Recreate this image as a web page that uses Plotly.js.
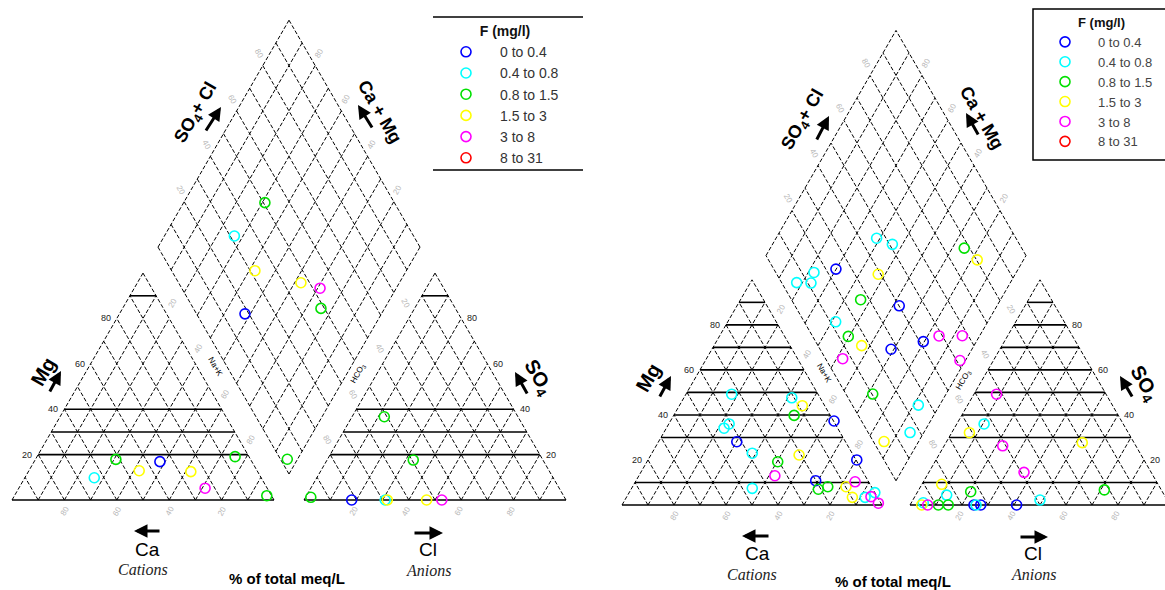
<!DOCTYPE html>
<html><head><meta charset="utf-8">
<script src="https://cdn.plot.ly/plotly-3.0.1.min.js"></script>
<style>html,body{margin:0;padding:0;background:#fff;} #chart{width:1165px;height:590px;}</style>
</head><body><div id="chart"></div>
<script>
// ---- F classes (legend) ----
const fClasses = ['0 to 0.4', '0.4 to 0.8', '0.8 to 1.5', '1.5 to 3', '3 to 8', '8 to 31'];
const fColors = ['#0000ff', '#00ffff', '#00e000', '#ffff00', '#ff00ff', '#ff0000'];

// ---- Left diagram: cation triangle (% Mg, % Na+K), class index ----
const leftCatMg = [17.9, 9.8, 12.9, 16.9, 12.5, 5.2, 19.1, 1.9];
const leftCatNa = [30.7, 26.5, 42.1, 48.0, 62.0, 71.1, 75.6, 96.3];
const leftCatF  = [2, 1, 3, 0, 3, 4, 2, 2];
// anion triangle (% SO4, % Cl)
const leftAnSO4 = [36.7, 17.6, 1.2, 0, 0, 0, 0, 0];
const leftAnCl  = [12.3, 32.9, 2.0, 18.2, 31.0, 31.8, 46.8, 52.6];
const leftAnF   = [2, 2, 2, 0, 1, 3, 3, 4];
// diamond (% Ca+Mg, % SO4+Cl)
const leftDiaCaMg  = [69.0, 73.3, 57.8, 37.6, 29.1, 24.3, 52.1, 3.9];
const leftDiaSO4Cl = [50.6, 31.6, 31.8, 46.7, 52.8, 48.7, 18.5, 2.6];
const leftDiaF     = [2, 1, 3, 3, 4, 2, 0, 2];

// ---- Right diagram ----
const rightCatMg = [49.2, 47.6, 44.1, 39.8, 37.3, 36.0, 34.1, 28.1, 23.0, 22.2, 20.0, 19.2, 13.0, 10.8, 7.0, 8.1, 8.1, 10.3, 3.4, 7.4, 3.4, 5.5, 3.7, 0.8];
const rightCatNa = [17.6, 41.5, 47.3, 46.3, 62.9, 23.2, 22.2, 30.1, 38.6, 57.0, 80.3, 50.3, 52.3, 69.1, 72.0, 75.1, 82.1, 84.5, 86.9, 46.4, 91.8, 94.5, 93.9, 98.2];
const rightCatF  = [1, 1, 3, 2, 0, 1, 1, 0, 1, 3, 0, 2, 4, 0, 2, 2, 3, 4, 3, 1, 1, 1, 4, 4];
const rightAnSO4 = [49.2, 36.0, 32.1, 26.3, 27.7, 14.5, 6.7, 9.2, 4.4, 5.9, 0, 1.0, 0, 0, 0, 0, 0, 0, 0, 2.2];
const rightAnCl  = [8.7, 10.5, 6.8, 22.5, 52.4, 36.6, 71.4, 7.6, 11.9, 20.4, 4.5, 4.6, 6.8, 10.9, 14.7, 24.6, 25.4, 27.2, 41.0, 48.9];
const rightAnF   = [4, 1, 3, 4, 3, 4, 2, 3, 1, 2, 3, 1, 4, 2, 2, 0, 1, 0, 0, 1];
const rightDiaCaMg  = [61.3, 53.9, 25.4, 17.8, 70.1, 52.7, 77.8, 82.2, 76.6, 53.8, 58.5, 50.4, 43.2, 47.6, 28.2, 13.3, 37.6, 15.6, 20.4, 6.7, 31.1, 2.1, 8.2, 5.3];
const rightDiaSO4Cl = [46.4, 51.1, 77.9, 80.3, 23.9, 39.0, 14.7, 5.8, 11.2, 26.6, 12.1, 13.7, 16.8, 6.6, 10.3, 4.1, 40.1, 48.7, 41.4, 57.7, 27.3, 51.3, 25.4, 16.1];
const rightDiaF     = [1, 1, 2, 3, 0, 3, 1, 1, 1, 2, 1, 2, 3, 4, 2, 3, 0, 4, 0, 4, 0, 4, 1, 1];

// tick labels
const sideTicks = [20, 40, 60, 80];

// ---- geometry (pixel layout of each Piper diagram) ----
const SQ = Math.sqrt(3) / 2;
const GEO = [
  {x0: 12, base: 500, s: 262, g: 30, horiz: [20, 30, 40, 90], legend: 'legend'},
  {x0: 622, base: 505, s: 260, g: 28, horiz: [10, 30, 40, 50, 60, 70, 80, 90], legend: 'legend2'}
];
function catXY(G, mg, na) { return [G.x0 + G.s * (na + mg / 2) / 100, G.base - G.s * SQ * mg / 100]; }
function anXY(G, so4, cl) { const xa = G.x0 + G.s + G.g; return [xa + G.s * (cl + so4 / 2) / 100, G.base - G.s * SQ * so4 / 100]; }
function diaXY(G, p, q) {
  const bx = G.x0 + G.s + G.g / 2, by = G.base - G.g / 2 * Math.sqrt(3);
  return [bx + G.s / 2 * (q - p) / 100, by - G.s * SQ * (p + q) / 100];
}

const traces = [];
const annotations = [];
const shapes = [];

function seg(arr, a, b) { arr.x.push(a[0], b[0], null); arr.y.push(a[1], b[1], null); }

GEO.forEach(G => {
  const dashed = {x: [], y: []}, solid = {x: [], y: []};
  [catXY, anXY].forEach(f => {
    for (let k = 0; k <= 90; k += 10) {
      seg(dashed, f(G, 0, 100 - k), f(G, 100 - k, 0));
      seg(dashed, f(G, 0, k), f(G, 100 - k, k));
    }
    seg(solid, f(G, 0, 0), f(G, 0, 100));
    G.horiz.forEach(m => seg(solid, f(G, m, 0), f(G, m, 100 - m)));
  });
  for (let k = 0; k <= 100; k += 10) {
    seg(dashed, diaXY(G, k, 0), diaXY(G, k, 100));
    seg(dashed, diaXY(G, 0, k), diaXY(G, 100, k));
  }
  traces.push({type: 'scatter', mode: 'lines', x: dashed.x, y: dashed.y, hoverinfo: 'skip', showlegend: false,
    line: {color: '#000', width: 1, dash: '4px,2px'}});
  traces.push({type: 'scatter', mode: 'lines', x: solid.x, y: solid.y, hoverinfo: 'skip', showlegend: false,
    line: {color: '#000', width: 1.6}});
});

// ---- sample points ----
const sets = [
  {G: GEO[0], cat: [leftCatMg, leftCatNa, leftCatF], an: [leftAnSO4, leftAnCl, leftAnF], dia: [leftDiaCaMg, leftDiaSO4Cl, leftDiaF]},
  {G: GEO[1], cat: [rightCatMg, rightCatNa, rightCatF], an: [rightAnSO4, rightAnCl, rightAnF], dia: [rightDiaCaMg, rightDiaSO4Cl, rightDiaF]}
];
sets.forEach(S => {
  fClasses.forEach((name, ci) => {
    const xs = [], ys = [];
    [[S.cat, catXY], [S.an, anXY], [S.dia, diaXY]].forEach(([d, f]) => {
      d[2].forEach((c, i) => { if (c === ci) { const p = f(S.G, d[0][i], d[1][i]); xs.push(p[0]); ys.push(p[1]); } });
    });
    if (!xs.length) { xs.push(null); ys.push(null); }
    traces.push({type: 'scatter', mode: 'markers', x: xs, y: ys, name: '\u2002\u2002' + name, legend: S.G.legend,
      marker: {symbol: 'circle-open', size: 10, color: fColors[ci], line: {width: 1.6, color: fColors[ci]}},
      hovertemplate: name + '<extra></extra>'});
  });
});

// ---- labels ----
const BOLD = 'Liberation Sans, Arial, sans-serif';
function ann(x, y, text, size, opts) {
  annotations.push(Object.assign({x, y, xref: 'x', yref: 'y', text, showarrow: false,
    font: {family: BOLD, size, color: '#000'}, xanchor: 'center', yanchor: 'middle'}, opts || {}));
}
function arrow(tail, head) {
  annotations.push({x: head[0], y: head[1], ax: tail[0], ay: tail[1], xref: 'x', yref: 'y', axref: 'x', ayref: 'y',
    text: '', showarrow: true, arrowhead: 2, arrowsize: 0.9, arrowwidth: 3, arrowcolor: '#000'});
}

GEO.forEach((G, gi) => {
  const o = gi === 0 ? {dx: 0} : {dx: 0};
  // black side tick labels
  sideTicks.forEach(v => {
    const c = catXY(G, v, 0);
    ann(c[0] - 4, c[1], String(v), 9, {xanchor: 'right', font: {family: BOLD, size: 9, color: '#222'}});
    const a = anXY(G, v, 100 - v);
    ann(a[0] + 4, a[1], String(v), 9, {xanchor: 'left', font: {family: BOLD, size: 9, color: '#222'}});
  });
  // faint gray tick labels
  const gray = {family: BOLD, size: 8, color: '#b8b8b8'};
  sideTicks.forEach((v, i) => {
    const f = (v + 0) / 100;
    // cation base
    const cb = catXY(G, 0, f * 100);
    ann(cb[0], cb[1] + 11, String(100 - v), 8, {font: gray, textangle: -60});
    // anion base
    const ab = anXY(G, 0, f * 100);
    ann(ab[0] - 3, ab[1] + 11, String(v), 8, {font: gray, textangle: -60});
    // cation right side (outer normal)
    const fr = f + 0.045;
    const cr = catXY(G, fr * 100, 100 - fr * 100);
    ann(cr[0] + 9, cr[1] - 5, String(100 - v), 8, {font: gray, textangle: -60});
    const al = anXY(G, fr * 100, 0);
    ann(al[0] - 9, al[1] - 5, String(100 - v), 8, {font: gray, textangle: 60});
    // diamond upper edges
    const fd = f + 0.03;
    const dl = diaXY(G, 100, fd * 100);
    ann(dl[0] - 8, dl[1] - 5, String(v), 8, {font: gray, textangle: 60});
    const dr = diaXY(G, fd * 100, 100);
    ann(dr[0] + 8, dr[1] - 5, String(v), 8, {font: gray, textangle: -60});
  });
  // small inner labels
  const nk = catXY(G, 55, 45);
  ann(nk[0] + 14, nk[1] - 8, 'Na+K', 8, {textangle: 60, font: {family: BOLD, size: 8, color: '#000'}});
  const hc = anXY(G, 52, 0);
  ann(hc[0] - 14, hc[1] - 8, 'HCO<sub>3</sub>', 8, {textangle: -60, font: {family: BOLD, size: 8, color: '#000'}});
});

// big axis titles (left diagram)
ann(196, 113, 'SO<sub>4</sub>+ Cl', 18, {textangle: -60, font: {family: BOLD, size: 18, color: '#000', weight: 'bold'}});
arrow([205, 132], [221, 107]);
ann(380, 112, 'Ca + Mg', 18, {textangle: 60, font: {family: BOLD, size: 18, color: '#000', weight: 'bold'}});
arrow([373, 129], [358, 105]);
ann(43, 372, 'Mg', 20, {textangle: -60, font: {family: BOLD, size: 20, color: '#000', weight: 'bold'}});
arrow([49, 393], [61, 371]);
ann(538, 377, 'SO<sub>4</sub>', 20, {textangle: 60, font: {family: BOLD, size: 20, color: '#000', weight: 'bold'}});
arrow([528, 395], [515, 372]);
arrow([161, 531], [134, 531]);
ann(147, 549, 'Ca', 19, {font: {family: BOLD, size: 19, color: '#000'}});
ann(143, 569, 'Cations', 16, {font: {family: 'Liberation Serif, Times New Roman, serif', size: 16, color: '#222', style: 'italic'}});
arrow([413, 533], [443, 533]);
ann(428, 549, 'Cl', 19, {font: {family: BOLD, size: 19, color: '#000'}});
ann(428, 570, 'Anions', 16, {font: {family: 'Liberation Serif, Times New Roman, serif', size: 16, color: '#222', style: 'italic'}});
ann(287, 578, '% of total meq/L', 15, {font: {family: BOLD, size: 15, color: '#000', weight: 'bold'}});

// right diagram
ann(803, 120, 'SO<sub>4</sub>+ Cl', 18, {textangle: -60, font: {family: BOLD, size: 18, color: '#000', weight: 'bold'}});
arrow([816, 141], [829, 116]);
ann(982, 118, 'Ca + Mg', 18, {textangle: 60, font: {family: BOLD, size: 18, color: '#000', weight: 'bold'}});
arrow([979, 136], [966, 113]);
ann(648, 378, 'Mg', 20, {textangle: -60, font: {family: BOLD, size: 20, color: '#000', weight: 'bold'}});
arrow([659, 398], [671, 376]);
ann(1144, 383, 'SO<sub>4</sub>', 20, {textangle: 60, font: {family: BOLD, size: 20, color: '#000', weight: 'bold'}});
arrow([1133, 398], [1120, 376]);
arrow([770, 536], [742, 536]);
ann(757, 553, 'Ca', 19, {font: {family: BOLD, size: 19, color: '#000'}});
ann(752, 574, 'Cations', 16, {font: {family: 'Liberation Serif, Times New Roman, serif', size: 16, color: '#222', style: 'italic'}});
arrow([1019, 537], [1048, 537]);
ann(1033, 553, 'Cl', 19, {font: {family: BOLD, size: 19, color: '#000'}});
ann(1033, 574, 'Anions', 16, {font: {family: 'Liberation Serif, Times New Roman, serif', size: 16, color: '#222', style: 'italic'}});
ann(893, 581, '% of total meq/L', 15, {font: {family: BOLD, size: 15, color: '#000', weight: 'bold'}});

// legend frame lines
shapes.push({type: 'line', xref: 'x', yref: 'y', x0: 433, x1: 583, y0: 17, y1: 17, line: {color: '#000', width: 1.5}});
shapes.push({type: 'line', xref: 'x', yref: 'y', x0: 433, x1: 583, y0: 170, y1: 170, line: {color: '#000', width: 1.5}});
shapes.push({type: 'rect', xref: 'x', yref: 'y', x0: 1033, x1: 1175, y0: 9, y1: 160, line: {color: '#000', width: 1.5}});

const legBase = {bgcolor: 'rgba(0,0,0,0)', borderwidth: 0, xanchor: 'left', yanchor: 'top', traceorder: 'normal',
  itemclick: false, itemdoubleclick: false};
const layout = {
  width: 1165, height: 590, margin: {l: 0, r: 0, t: 0, b: 0},
  paper_bgcolor: '#fff', plot_bgcolor: '#fff',
  xaxis: {range: [0, 1165], visible: false, fixedrange: true},
  yaxis: {range: [590, 0], visible: false, fixedrange: true},
  showlegend: true,
  legend: Object.assign({}, legBase, {x: 446 / 1165, y: 1 - 18 / 590,
    font: {family: BOLD, size: 14, color: '#333'},
    title: {text: '<b>F (mg/l)</b>', side: 'top center', font: {family: BOLD, size: 14, color: '#111'}}}),
  legend2: Object.assign({}, legBase, {x: 1045 / 1165, y: 1 - 10 / 590,
    font: {family: BOLD, size: 13, color: '#444'},
    title: {text: '<b>F (mg/l)</b>', side: 'top center', font: {family: BOLD, size: 13, color: '#111'}}}),
  annotations, shapes
};
Plotly.newPlot('chart', traces, layout, {displayModeBar: false, staticPlot: true});
</script></body></html>
